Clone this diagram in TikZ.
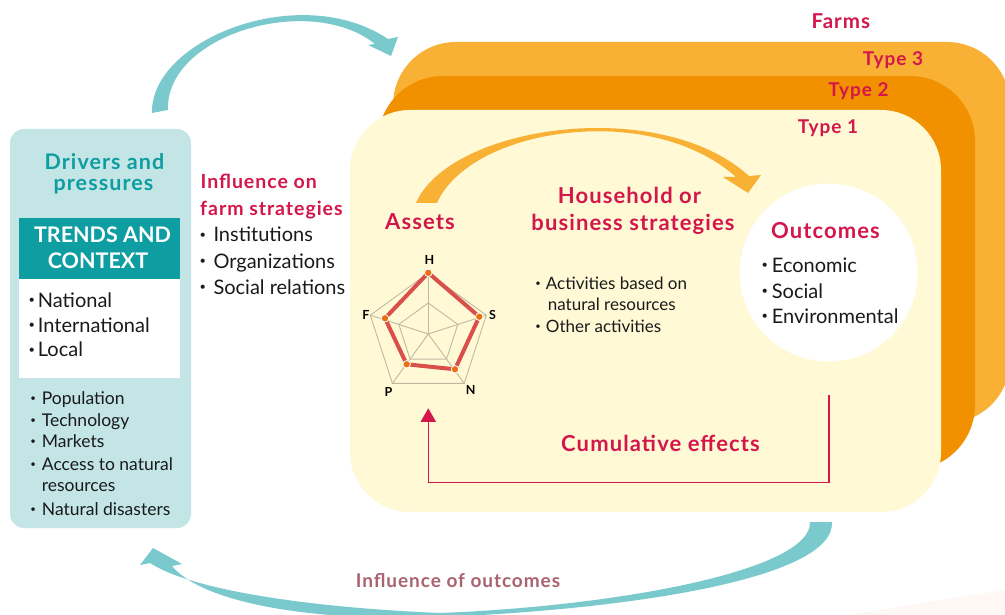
\documentclass[tikz,border=0pt]{standalone}
\usepackage{fontspec}
\setmainfont{Lato}
\newfontfamily\hdfont[LetterSpace=5]{Lato}
\usetikzlibrary{arrows.meta}
\definecolor{tealLight}{HTML}{C3E5E6}
\definecolor{tealDark}{HTML}{0E9EA1}
\definecolor{tealArr}{HTML}{7ACACD}
\definecolor{crim}{HTML}{D3164B}
\definecolor{rose}{HTML}{A9626F}
\definecolor{orL}{HTML}{F8B134}
\definecolor{orD}{HTML}{F29100}
\definecolor{cream}{HTML}{FFF9D6}
\definecolor{radRed}{HTML}{D9504A}
\definecolor{radDot}{HTML}{E8700F}
\definecolor{gridc}{HTML}{BFB9A2}
\definecolor{pinkbg}{HTML}{FEF7F4}
\definecolor{ink}{HTML}{1A1A1A}
\newcommand\bul[1]{\llap{\raisebox{0.17em}{\scalebox{0.55}{\textbullet}}\hspace{#1}}}
\begin{document}
\begin{tikzpicture}[x=1pt,y=-1pt,
  box/.style={inner sep=0pt, outer sep=0pt, anchor=north west},
  tl/.style={inner sep=0pt, anchor=base west, text=ink},
  tc/.style={inner sep=0pt, anchor=base},
  hd/.style={font=\fontsize{22}{26}\selectfont\hdfont\bfseries, text=crim},
  bl20/.style={tl, font=\fontsize{20}{24}\selectfont},
  bl17/.style={tl, font=\fontsize{17.5}{21}\selectfont},
  bl16/.style={tl, font=\fontsize{17}{20}\selectfont},
  typelbl/.style={tc, font=\fontsize{19}{22}\selectfont\hdfont\bfseries, text=crim},
  rlbl/.style={tc, font=\fontsize{12.5}{14}\selectfont\bfseries, text=black},
  gridln/.style={draw=gridc, line width=0.9pt},
  rdot/.style={circle, fill=radDot, draw=white, line width=0.8pt, minimum size=7.5pt, inner sep=0pt},
]
\useasboundingbox (0,0) rectangle (1005,615);
\fill[white] (0,0) rectangle (1005,615);
\fill[pinkbg] (850,615) -- (1005,590) -- (1005,615) -- cycle;

% farm type boxes
\node[box, fill=orL, rounded corners=63pt, minimum width=617pt, minimum height=381pt] (type3) at (393,42) {};
\node[box, fill=orD, rounded corners=65pt, minimum width=597pt, minimum height=394pt] (type2) at (378,76) {};
\node[box, fill=cream, rounded corners=60pt, minimum width=591pt, minimum height=402pt] (type1) at (350,110) {};

\node[typelbl, font=\fontsize{20.5}{22}\selectfont\hdfont\bfseries] (farms) at (840.8,28.3) {Farms};
\node[typelbl] (t3) at (893,65.7) {Type 3};
\node[typelbl] (t2) at (858.5,96.7) {Type 2};
\node[typelbl] (t1) at (828,133.3) {Type 1};

% left box
\node[box, fill=tealLight, rounded corners=14pt, minimum width=181pt, minimum height=399pt] (drivers) at (10,129) {};
\node[tc, font=\fontsize{21.5}{26}\selectfont\hdfont\bfseries, text=tealDark] (dr1) at (104.5,170) {Drivers and};
\node[tc, font=\fontsize{21.5}{26}\selectfont\hdfont\bfseries, text=tealDark] (dr2) at (103.5,190.7) {pressures};
\node[box, fill=tealDark, minimum width=161pt, minimum height=60.4pt] (trends) at (19,218.3) {};
\node[tc, font=\fontsize{21.5}{26}\selectfont\bfseries, text=white] (tr1) at (102.5,242.7) {TRENDS AND};
\node[tc, font=\fontsize{21.5}{26}\selectfont\bfseries, text=white] (tr2) at (98,268.3) {CONTEXT};
\node[box, fill=white, minimum width=161pt, minimum height=99pt] (scale) at (19,278.7) {};
\node[bl20] (sc1) at (37.7,307.3) {\bul{3pt}National};
\node[bl20] (sc2) at (37.7,332.3) {\bul{3pt}International};
\node[bl20] (sc3) at (37.7,356.7) {\bul{3pt}Local};
\node[bl17] (p1) at (41.7,404) {\bul{6pt}Population};
\node[bl17] (p2) at (41.7,426) {\bul{6pt}Technology};
\node[bl17] (p3) at (41.7,447.7) {\bul{6pt}Markets};
\node[bl17] (p4) at (41.7,470) {\bul{6pt}Access to natural};
\node[bl17] (p5) at (41.7,491.5) {resources};
\node[bl17] (p6) at (41.7,515.7) {\bul{6pt}Natural disasters};

% influence on farm strategies
\node[tl, font=\fontsize{19.5}{24}\selectfont\hdfont\bfseries, text=crim] (inf1) at (200.5,188.3) {Influence on};
\node[tl, font=\fontsize{19.5}{24}\selectfont\hdfont\bfseries, text=crim] (inf2) at (200,215) {farm strategies};
\node[bl20] (i1) at (213.3,241.7) {\bul{7.5pt}Institutions};
\node[bl20] (i2) at (213.3,268.3) {\bul{7.5pt}Organizations};
\node[bl20] (i3) at (213.3,294) {\bul{7.5pt}Social relations};

% outcomes circle
\node[circle, fill=white, minimum size=178pt, inner sep=0pt] (outc) at (828.7,272.5) {};
\node[tc, hd] (outT) at (825.5,239) {Outcomes};
\node[bl20] (o1) at (771.7,272.3) {\bul{4pt}Economic};
\node[bl20] (o2) at (771.7,298.3) {\bul{4pt}Social};
\node[bl20] (o3) at (771.7,323.3) {\bul{4pt}Environmental};

% assets and strategies
\node[tl, hd] (assets) at (385,229.3) {Assets};
\node[tc, hd] (hs1) at (629.5,203.3) {Household or};
\node[tc, hd] (hs2) at (633,230.7) {business strategies};
\node[bl16] (a1) at (545.7,289) {\bul{5pt}Activities based on};
\node[bl16] (a2) at (547.7,310) {natural resources};
\node[bl16] (a3) at (545.7,332.3) {\bul{5pt}Other activities};

% orange arc arrow
\fill[orL] (416,203) .. controls (450,125) and (660,95) .. (749,176) -- (761,175) -- (748,193) -- (723,177) -- (736,177) .. controls (650,100) and (470,128) .. (437,203) -- cycle;

% radar chart
\coordinate (rc) at (428.3,334);
\coordinate (oH) at (428.3,273);
\coordinate (oS) at (486.3,315.2);
\coordinate (oN) at (464.2,383.4);
\coordinate (oP) at (392.4,383.4);
\coordinate (oF) at (370.3,315.2);
\coordinate (iH) at (428.3,303);
\coordinate (iS) at (457.8,324.4);
\coordinate (iN) at (446.5,359.1);
\coordinate (iP) at (410.1,359.1);
\coordinate (iF) at (398.8,324.4);
\draw[gridln] (oH) -- (oS) -- (oN) -- (oP) -- (oF) -- cycle;
\draw[gridln] (iH) -- (iS) -- (iN) -- (iP) -- (iF) -- cycle;
\foreach \v in {oH,oS,oN,oP,oF} \draw[gridln] (rc) -- (\v);
\node[rdot] (rH) at (428.3,272.8) {};
\node[rdot] (rS) at (479.3,316.7) {};
\node[rdot] (rN) at (455,369.3) {};
\node[rdot] (rP) at (406.7,364.3) {};
\node[rdot] (rF) at (385,318.3) {};
\draw[radRed, line width=4pt, line join=round] (rH.center) -- (rS.center) -- (rN.center) -- (rP.center) -- (rF.center) -- cycle;
\foreach \d in {rH,rS,rN,rP,rF} \node[rdot] at (\d) {};
\node[rlbl] (lH) at (429.5,265) {H};
\node[rlbl] (lS) at (492.5,319.3) {S};
\node[rlbl] (lF) at (366,319.3) {F};
\node[rlbl] (lP) at (388.5,396.7) {P};
\node[rlbl] (lN) at (470.8,394.3) {N};

% cumulative effects loop
\coordinate (cumS) at (829,395);
\coordinate (cumB) at (428.3,482.3);
\coordinate (cumE) at (428.3,408.3);
\draw[crim, line width=1.6pt, -{Triangle[length=13.5pt,width=15pt]}] (cumS) |- (cumB) -- (cumE);
\node[tc, hd] (cum) at (660.5,451.7) {Cumulative effects};

% teal arrows
\fill[tealArr] (152,113) .. controls (150,40) and (300,-20) .. (388,39) -- (398,37) -- (391,56) -- (368,45) -- (375,44) .. controls (310,-8) and (165,35) .. (168,110) -- cycle;
\fill[tealArr] (832,522) .. controls (835,580) and (620,610) .. (440,617) .. controls (300,622) and (200,600) .. (172,566) -- (182,564) -- (153,548) -- (140,565) -- (150,563) .. controls (195,592) and (320,608) .. (440,613) .. controls (620,606) and (812,570) .. (810,522) -- cycle;
\node[tc, font=\fontsize{19}{22}\selectfont\hdfont\bfseries, text=rose] (infout) at (458,587.3) {Influence of outcomes};
\end{tikzpicture}
\end{document}
